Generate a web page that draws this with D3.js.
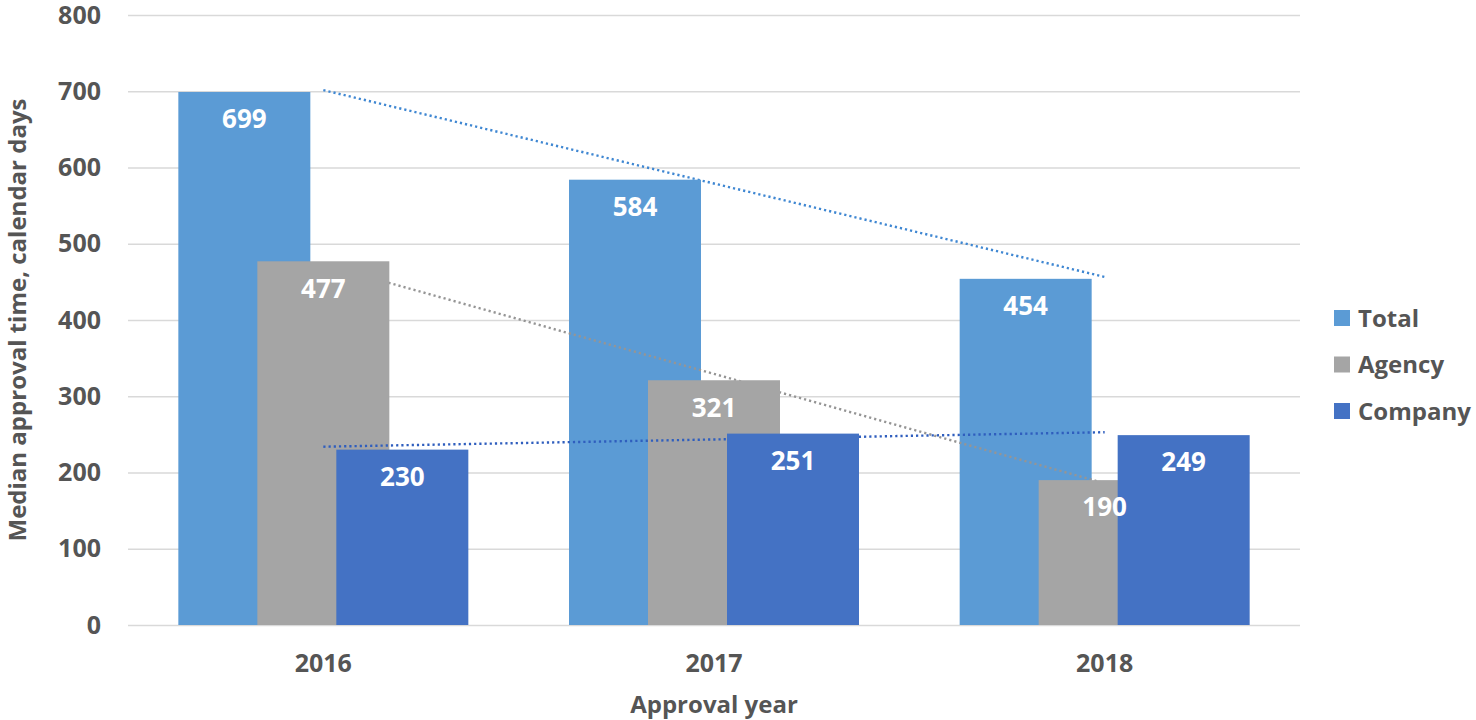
<!DOCTYPE html>
<html>
<head>
<meta charset="utf-8">
<script src="https://cdn.jsdelivr.net/npm/d3@7"></script>
<style>
  body { margin: 0; background: #fff; }
  text { font-family: "Open Sans", "DejaVu Sans", sans-serif; font-weight: bold; }
</style>
</head>
<body>
<div class="box"></div>
<script>
const years = ['2016', '2017', '2018']
const seriesNames = ['Total', 'Agency', 'Company']
const totalVals = [699, 584, 454]
const agencyVals = [477, 321, 190]
const companyVals = [230, 251, 249]
const yTicks = [0, 100, 200, 300, 400, 500, 600, 700, 800]

const colors = { Total: '#5B9BD5', Agency: '#A5A5A5', Company: '#4472C4' }
const trendColors = { Total: '#3F87D2', Agency: '#959595', Company: '#2F5EBE' }

const values = { Total: totalVals, Agency: agencyVals, Company: companyVals }

window.onload = () => {
    const W = 1476, H = 720
    const left = 128, right = 1300, top = 15, bottom = 625
    const textCol = '#555555'

    let svg = d3.select('.box').append('svg')
        .attr('width', W)
        .attr('height', H)

    let x = d3.scaleBand().domain(years).range([left, right]).padding(0)
    let y = d3.scaleLinear().domain([0, 800]).range([bottom, top])
    let barW = 132
    let sub = d3.scalePoint().domain(seriesNames).range([-79, 79])

    // gridlines
    svg.append('g')
        .selectAll('line')
        .data(yTicks)
        .join('line')
        .attr('x1', left)
        .attr('x2', right)
        .attr('y1', d => y(d) + 0.5)
        .attr('y2', d => y(d) + 0.5)
        .attr('stroke', '#D9D9D9')
        .attr('stroke-width', 1.5)

    // y tick labels
    svg.append('g')
        .selectAll('text')
        .data(yTicks)
        .join('text')
        .attr('x', 101)
        .attr('y', d => y(d))
        .attr('dy', '0.34em')
        .attr('text-anchor', 'end')
        .attr('fill', textCol)
        .style('font-size', '25px')
        .text(d => d)

    // x tick labels
    svg.append('g')
        .selectAll('text')
        .data(years)
        .join('text')
        .attr('x', d => x(d) + x.bandwidth() / 2)
        .attr('y', 663)
        .attr('dy', '0.36em')
        .attr('text-anchor', 'middle')
        .attr('fill', textCol)
        .style('font-size', '25px')
        .text(d => d)

    svg.append('text')
        .attr('x', (left + right) / 2)
        .attr('y', 704)
        .attr('dy', '0.36em')
        .attr('text-anchor', 'middle')
        .attr('fill', textCol)
        .style('font-size', '24px')
        .text('Approval year')

    svg.append('text')
        .attr('transform', `translate(17, ${(top + bottom) / 2}) rotate(-90)`)
        .attr('dy', '0.36em')
        .attr('text-anchor', 'middle')
        .attr('fill', textCol)
        .style('font-size', '24px')
        .text('Median approval time, calendar days')

    let cx = d => x(d) + x.bandwidth() / 2

    // linear fit, same as excel trendline
    let fit = (vals) => {
        let n = vals.length
        let xs = d3.range(n)
        let mx = d3.mean(xs), my = d3.mean(vals)
        let num = d3.sum(xs, (v, i) => (v - mx) * (vals[i] - my))
        let den = d3.sum(xs, v => (v - mx) * (v - mx))
        let b = num / den
        return xs.map(v => my + b * (v - mx))
    }

    // each trendline sits under its own bars but over the earlier series
    for (let s of seriesNames) {
        let vals = values[s]
        let tr = fit(vals)
        let first = 0, last = years.length - 1
        svg.append('line')
            .attr('x1', cx(years[first]))
            .attr('y1', y(tr[first]))
            .attr('x2', cx(years[last]))
            .attr('y2', y(tr[last]))
            .attr('stroke', trendColors[s])
            .attr('stroke-width', 2.4)
            .attr('stroke-dasharray', '2.2,3')

        svg.append('g')
            .selectAll('rect')
            .data(years)
            .join('rect')
            .attr('x', (d) => cx(d) + sub(s) - barW / 2)
            .attr('y', (d, i) => y(vals[i]))
            .attr('width', barW)
            .attr('height', (d, i) => y(0) - y(vals[i]))
            .attr('fill', colors[s])
    }

    // data labels on top of everything
    for (let s of seriesNames) {
        let vals = values[s]
        svg.append('g')
            .selectAll('text')
            .data(years)
            .join('text')
            .attr('x', (d) => cx(d) + sub(s))
            .attr('y', (d, i) => y(vals[i]) + 27)
            .attr('dy', '0.36em')
            .attr('text-anchor', 'middle')
            .attr('fill', '#fff')
            .style('font-size', '26px')
            .text((d, i) => vals[i])
    }

    // legend
    let lg = svg.append('g')
    seriesNames.forEach((s, i) => {
        let ly = 318 + i * 46.5
        lg.append('rect')
            .attr('x', 1334)
            .attr('y', ly - 8)
            .attr('width', 16)
            .attr('height', 16)
            .attr('fill', colors[s])
        lg.append('text')
            .attr('x', 1358)
            .attr('y', ly)
            .attr('dy', '0.36em')
            .attr('fill', textCol)
            .style('font-size', '24px')
            .text(s)
    })
}
</script>
</body>
</html>
